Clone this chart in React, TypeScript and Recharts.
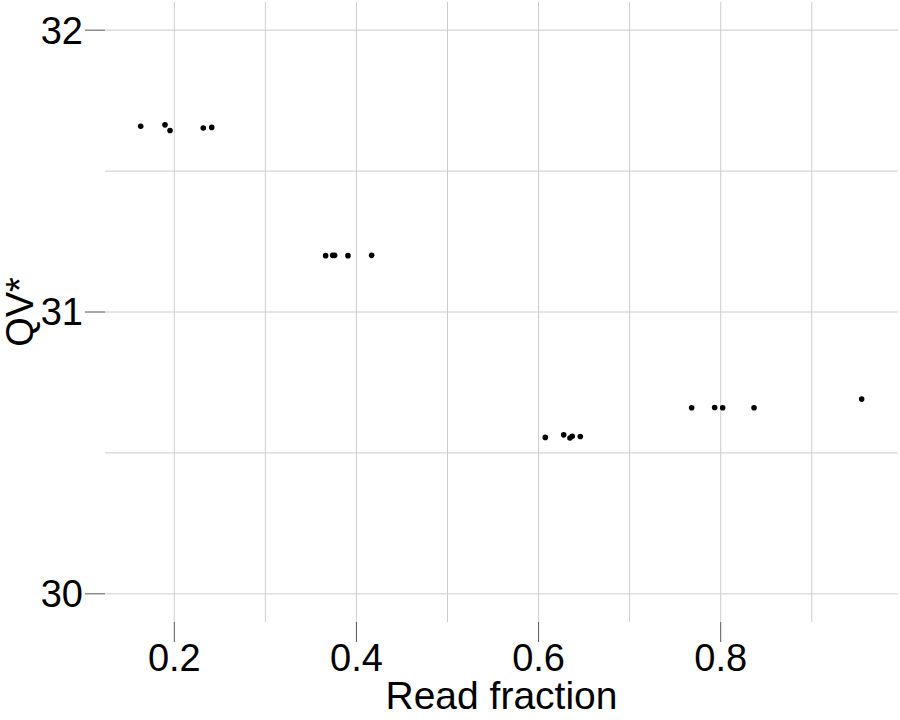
import { ScatterChart, Scatter, XAxis, YAxis, ReferenceLine, Label } from 'recharts'

const readFraction = [
  0.1631, 0.1898, 0.1953, 0.2318, 0.2411,
  0.3662, 0.3739, 0.3761, 0.3907, 0.4167,
  0.6074, 0.6276, 0.6345, 0.637, 0.6458,
  0.7681, 0.7934, 0.8022, 0.8366, 0.9548,
]
const qv = [
  31.659, 31.664, 31.644, 31.653, 31.655,
  31.2, 31.201, 31.201, 31.2, 31.201,
  30.555, 30.564, 30.553, 30.559, 30.558,
  30.66, 30.661, 30.66, 30.66, 30.691,
]
const xTicks = [0.2, 0.4, 0.6, 0.8]
const yTicks = [30, 31, 32]
const xGrid = [0.2, 0.3, 0.4, 0.5, 0.6, 0.7, 0.8, 0.9]
const yGrid = [30, 30.5, 31, 31.5, 32]

const data = readFraction.map((x, i) => ({ x, y: qv[i] }))

const font = '"Liberation Sans", Arial, sans-serif'
const tickStyle = { fontSize: 38, fill: '#000', fontFamily: font }

const Dot = (p: any) => <circle cx={p.cx} cy={p.cy} r={2.8} fill="#000" />

export default function App() {
  return (
    <div style={{ position: 'absolute', left: 0, top: 0, background: '#fff' }}>
      <ScatterChart width={900} height={720} margin={{ top: 2, right: 2, bottom: 0, left: 0 }}>
        {xGrid.map(v => (
          <ReferenceLine key={'x' + v} x={v} stroke="#cccccc" strokeWidth={1} />
        ))}
        {yGrid.map(v => (
          <ReferenceLine key={'y' + v} y={v} stroke="#cccccc" strokeWidth={1} />
        ))}
        <XAxis
          type="number"
          dataKey="x"
          domain={[0.1239, 0.9947]}
          allowDataOverflow
          ticks={xTicks}
          height={98}
          axisLine={false}
          tickSize={20}
          tickLine={{ stroke: '#555' }}
          tick={tickStyle}
        >
          <Label
            content={({ viewBox }: any) => (
              <text x={viewBox.x + viewBox.width / 2} y={709} textAnchor="middle" fontSize={39} fontFamily={font} fill="#000">
                Read fraction
              </text>
            )}
          />
        </XAxis>
        <YAxis
          type="number"
          dataKey="y"
          domain={[29.9, 32.1]}
          allowDataOverflow
          ticks={yTicks}
          width={105}
          axisLine={false}
          tickSize={20}
          tickLine={{ stroke: '#555' }}
          tick={tickStyle}
        >
          <Label
            content={({ viewBox }: any) => {
              const cx = 33
              const cy = viewBox.y + viewBox.height / 2
              return (
                <text x={cx} y={cy} transform={`rotate(-90, ${cx}, ${cy})`} textAnchor="middle" fontSize={38} fontFamily={font} fill="#000">
                  QV*
                </text>
              )
            }}
          />
        </YAxis>
        <Scatter data={data} shape={Dot} isAnimationActive={false} />
      </ScatterChart>
    </div>
  )
}
